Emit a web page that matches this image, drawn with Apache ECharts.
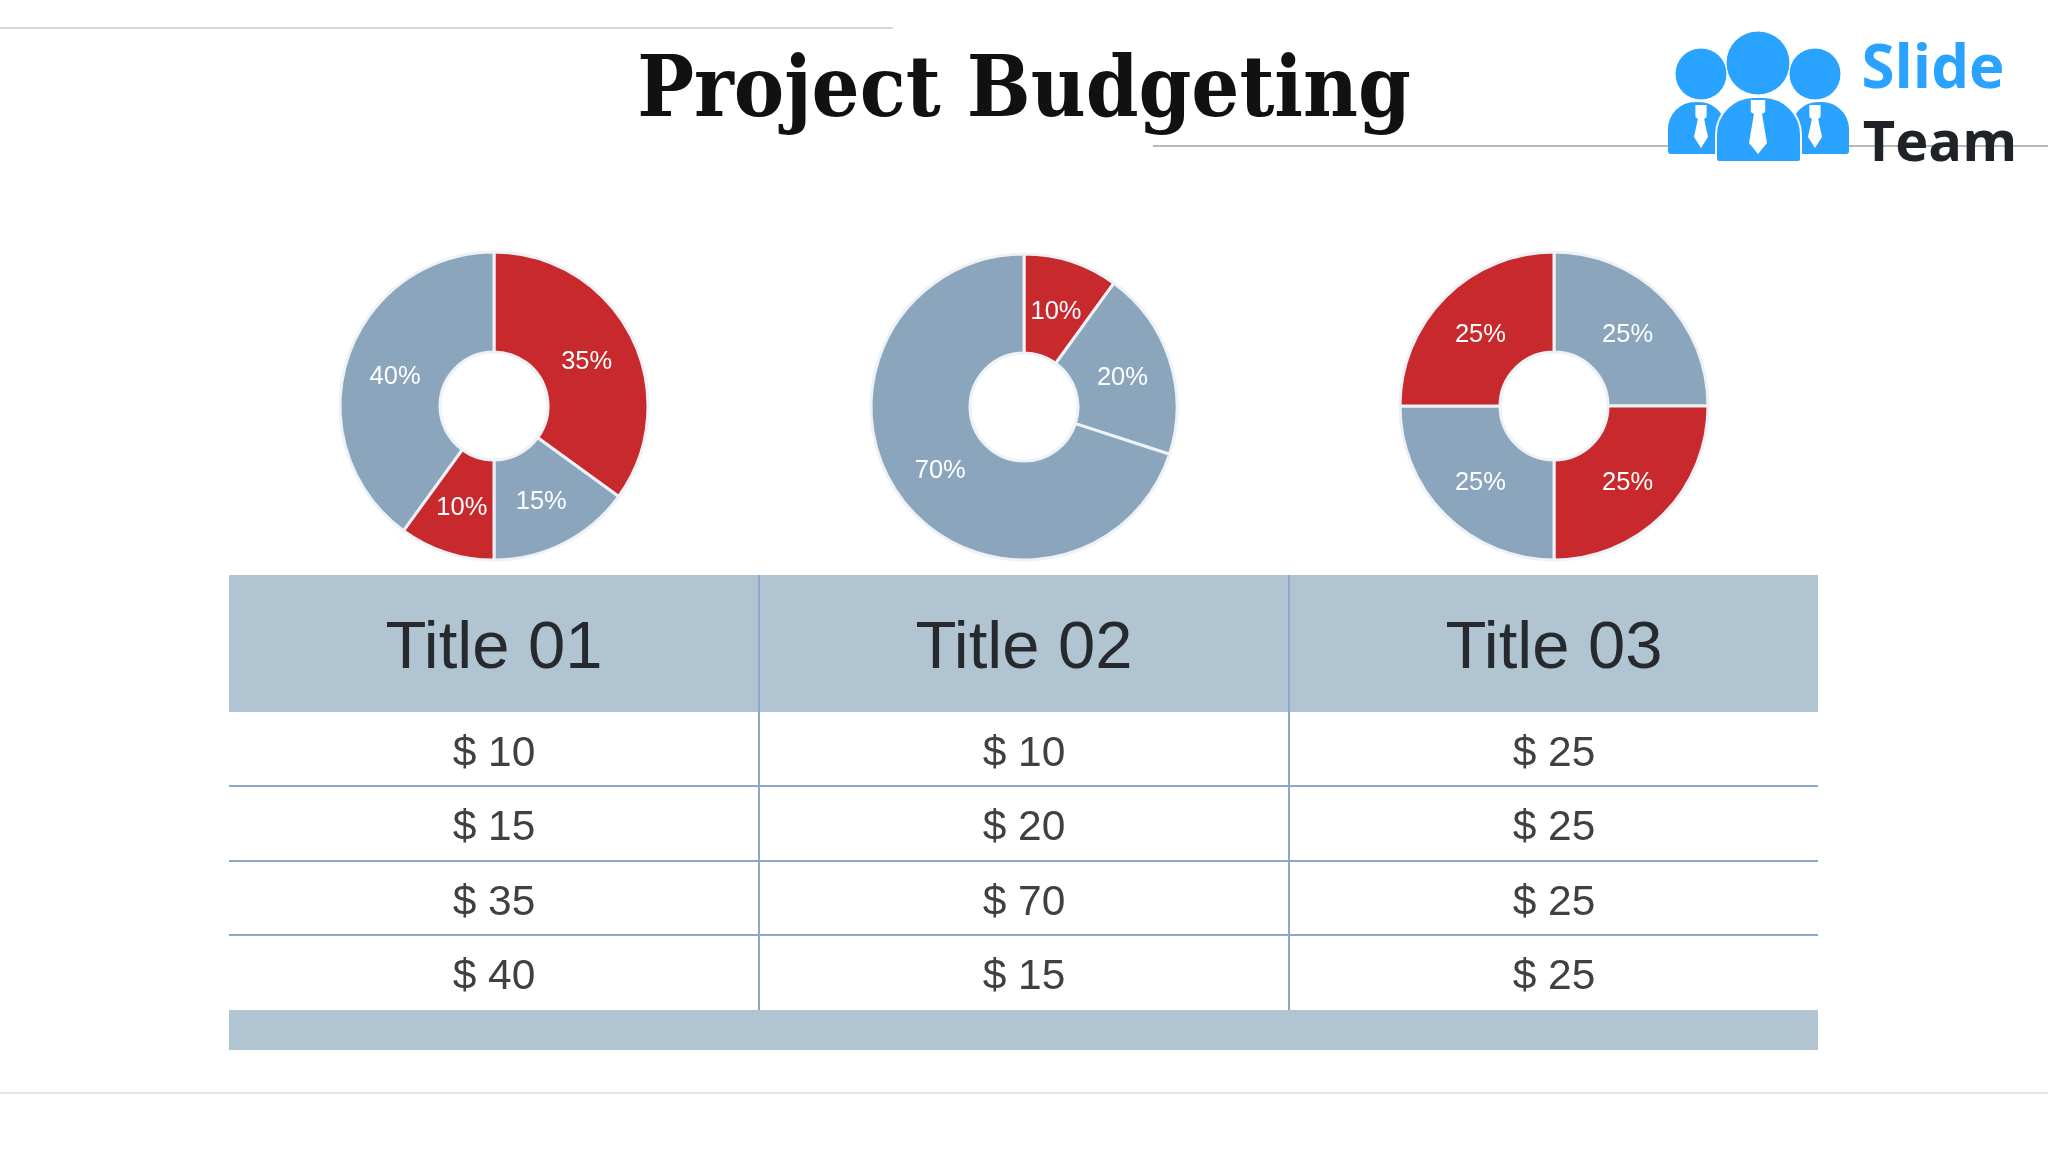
<!DOCTYPE html>
<html>
<head>
<meta charset="utf-8">
<style>
  html, body { margin: 0; padding: 0; background: #fff; }
  #chart { width: 2048px; height: 1152px; }
</style>
<script src="https://cdn.jsdelivr.net/npm/echarts@6/dist/echarts.min.js"></script>
</head>
<body>
<div id="chart"></div>
<script>
// values
const titles = ['Title 01', 'Title 02', 'Title 03'];
const pieOne = [35, 15, 10, 40];
const pieTwo = [10, 20, 70];
const pieThree = [25, 25, 25, 25];
const tableOne = [10, 15, 35, 40];
const tableTwo = [10, 20, 70, 15];
const tableThree = [25, 25, 25, 25];
const heading = 'Project Budgeting';

const RED = '#c8292c';
const BLUE = '#8aa5bc';
const HEAD = '#b0c4d2';
const RULE = '#8aa8c8';

const pieColors = [
  [RED, BLUE, RED, BLUE],
  [RED, BLUE, BLUE],
  [BLUE, RED, BLUE, RED]
];
const pieCentres = [[494, 406], [1024, 407], [1554, 406]];
const pieRadii = [[54, 154], [54, 153], [54, 154]];

const makePie = (values, i) => ({
  type: 'pie',
  center: pieCentres[i],
  radius: pieRadii[i],
  startAngle: 90,
  clockwise: true,
  silent: true,
  label: {
    show: true,
    position: 'inside',
    formatter: '{c}%',
    color: '#fff',
    fontFamily: 'Liberation Sans',
    fontSize: 25.5
  },
  labelLine: { show: false },
  // pull the labels a little towards the hole and down, as in the picture
  labelLayout: (params) => {
    const c = pieCentres[i];
    const lx = params.labelRect.x + params.labelRect.width / 2 - c[0];
    const ly = params.labelRect.y + params.labelRect.height / 2 - c[1];
    const len = Math.sqrt(lx * lx + ly * ly);
    return { dx: -lx / len * 3, dy: -ly / len * 3 + 3 };
  },
  itemStyle: { borderColor: '#eef2f6', borderWidth: 3 },
  data: values.map((v, j) => ({ value: v, itemStyle: { color: pieColors[i][j] } }))
});

// table geometry
const tableLeft = 229, tableRight = 1818;
const colLines = [759, 1289];
const colCentres = [494, 1024, 1554];
const headTop = 575, headBottom = 712;
const rowLines = [786, 861, 935];
const rowCentres = [754, 828, 903, 977];
const rowBottom = 1010, footBottom = 1050;

const rect = (x, y, w, h, fill) => ({
  type: 'rect', shape: { x: x, y: y, width: w, height: h }, style: { fill: fill }, z: 1
});
const line = (x1, y1, x2, y2, color, width) => ({
  type: 'line', shape: { x1: x1, y1: y1, x2: x2, y2: y2 },
  style: { stroke: color, lineWidth: width }, z: 2
});
const text = (str, x, y, font, fill) => ({
  type: 'text', z: 6,
  style: { text: str, x: x, y: y, font: font, fill: fill, textAlign: 'center', textVerticalAlign: 'middle' }
});
const body = (x, y, w, h, r, stroke) => ({
  type: 'rect', z: stroke ? 5 : 4,
  shape: { x: x, y: y, width: w, height: h, r: [r, r, 3, 3] },
  style: { fill: '#29a3ff', stroke: stroke || null, lineWidth: stroke ? 2 : 0 }
});
const disc = (cx, cy, r) => ({
  type: 'circle', z: 5, shape: { cx: cx, cy: cy, r: r },
  style: { fill: '#29a3ff', stroke: '#fff', lineWidth: 1 }
});
const tie = (cx, top, half, tip) => ({
  type: 'polygon', z: 5,
  shape: {
    points: [
      [cx - half * 0.8, top], [cx + half * 0.8, top], [cx + half * 0.8, top + 12], [cx + half * 0.45, top + 14],
      [cx + half, tip - 11], [cx, tip], [cx - half, tip - 11], [cx - half * 0.45, top + 14], [cx - half * 0.8, top + 12]
    ]
  },
  style: { fill: '#fff' }
});

const tableParts = [
  rect(tableLeft, headTop, tableRight - tableLeft, headBottom - headTop, HEAD),
  rect(tableLeft, rowBottom, tableRight - tableLeft, footBottom - rowBottom, HEAD)
];
colLines.forEach(x => tableParts.push(line(x, headTop, x, rowBottom, RULE, 2)));
rowLines.forEach(y => tableParts.push(line(tableLeft, y, tableRight, y, RULE, 2)));
titles.forEach((t, i) => tableParts.push(text(t, colCentres[i], 650, '67px "Liberation Sans"', '#262a2e')));
[tableOne, tableTwo, tableThree].forEach((col, i) => {
  col.forEach((v, j) => {
    tableParts.push(text('$ ' + v, colCentres[i], rowCentres[j], '42.5px "Liberation Sans"', '#404040'));
  });
});

// logo, top right
const logoParts = [
  disc(1701, 74, 26), disc(1815, 74, 26), disc(1758, 63, 32),
  body(1668, 102, 58, 52, 27),
  body(1791, 102, 58, 52, 27),
  body(1716, 97, 85, 65, 38, '#fff'),
  tie(1701, 105, 7, 148),
  tie(1815, 105, 7, 148),
  tie(1758, 100, 9, 154),
  text('Slide', 1933, 71, 'bold 60px "Open Sans"', '#29a3ff'),
  text('Team', 1940, 145, 'bold 56px "Open Sans"', '#1f2328')
];

const slideLines = [
  line(0, 28, 893, 28, '#c8c8c8', 1.5),
  line(1153, 146, 2048, 146, '#a0a0a0', 1.5),
  line(0, 1093, 2048, 1093, '#dcdcdc', 1.5)
];

const myChart = echarts.init(document.getElementById('chart'));
const option = {
  backgroundColor: '#ffffff',
  animation: false,
  title: {
    text: heading,
    left: 'center',
    top: 47,
    textStyle: { fontFamily: 'DejaVu Serif Condensed', fontWeight: 'bold', fontSize: 84, color: '#111111' }
  },
  graphic: { elements: [...slideLines, ...tableParts, ...logoParts] },
  series: [pieOne, pieTwo, pieThree].map(makePie)
};
myChart.setOption(option);
</script>
</body>
</html>
